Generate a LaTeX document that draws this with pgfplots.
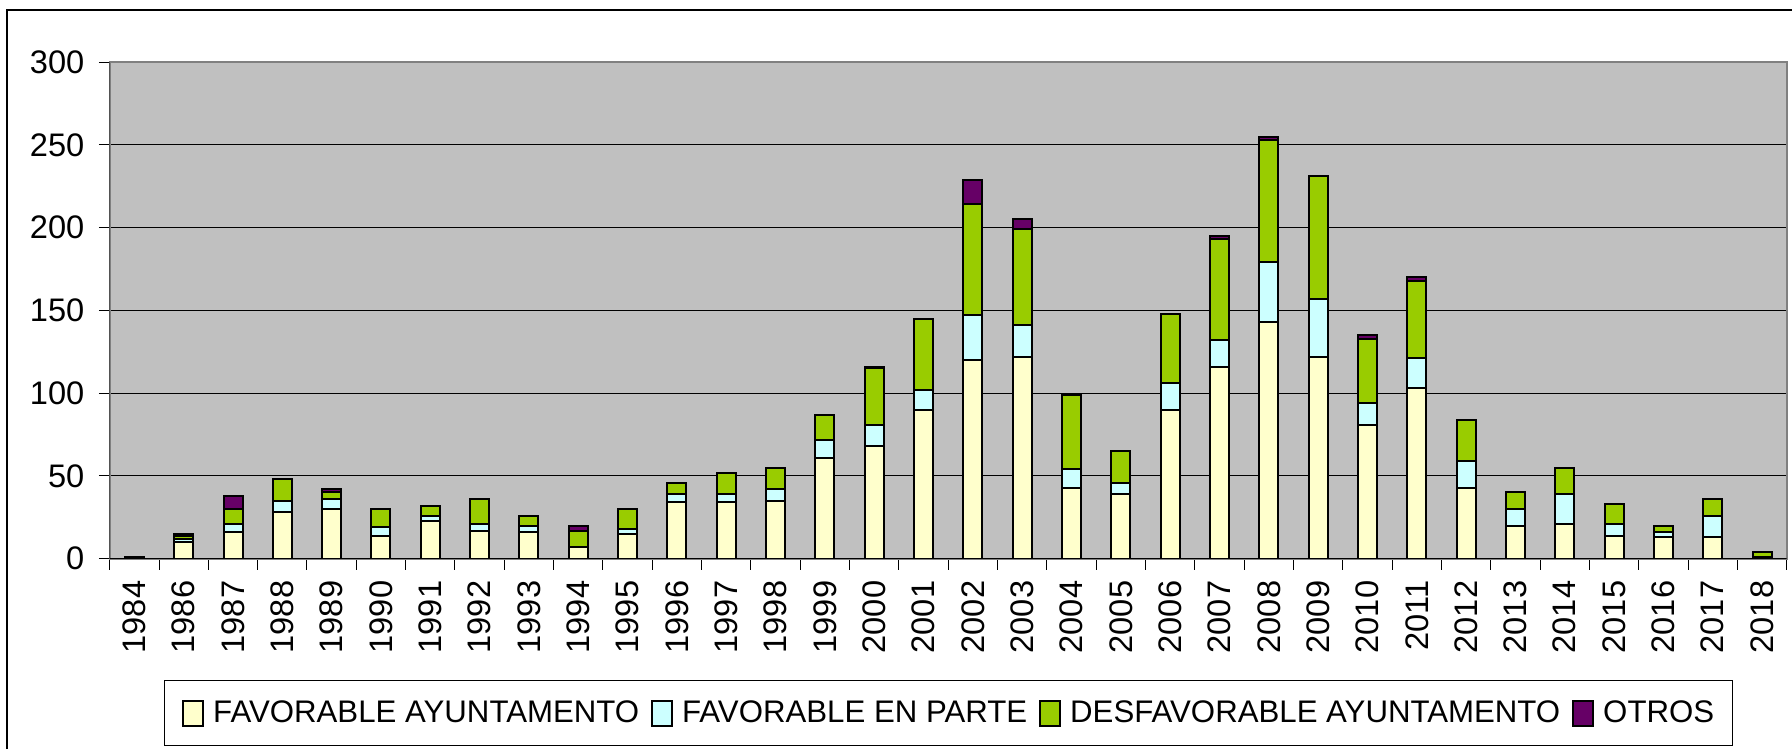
\documentclass[border=0pt]{standalone}
\usepackage{fontspec}
\setmainfont{Liberation Sans}
\usepackage{pgfplots}
\pgfplotsset{compat=1.18}
\usepackage{pgfplotstable}
\definecolor{cfav}{RGB}{255,255,204}
\definecolor{cpar}{RGB}{204,255,255}
\definecolor{cdes}{RGB}{153,204,0}
\definecolor{cotr}{RGB}{102,0,102}
\definecolor{cbg}{RGB}{192,192,192}
\definecolor{cbord}{RGB}{128,128,128}
\pgfplotsset{mylegend/.style={legend image code/.code={%
  \draw[##1,draw=black,line width=1pt] (0pt,-6.25pt) rectangle (10pt,6.25pt);
  \path[draw=none,fill=none] (0pt,0pt) -- (15pt,0pt);}}}

\pgfplotstableread{
x fav par des otr
0 1 0 0 0
1 10 2 2 1
2 16 5 9 8
3 28 7 13 0
4 30 6 4 2
5 14 5 11 0
6 23 3 6 0
7 17 4 15 0
8 16 4 6 0
9 7 0 10 3
10 15 3 12 0
11 34 5 7 0
12 34 5 13 0
13 35 7 13 0
14 61 11 15 0
15 68 13 34 1
16 90 12 43 0
17 120 27 67 15
18 122 19 58 6
19 43 11 45 0
20 39 7 19 0
21 90 16 42 0
22 116 16 61 2
23 143 36 74 2
24 122 35 74 0
25 81 13 39 2
26 103 18 47 2
27 43 16 25 0
28 20 10 10 0
29 21 18 16 0
30 14 7 12 0
31 13 3 4 0
32 13 13 10 0
33 1 0 3 0
}\datatable

\begin{document}
\begin{tikzpicture}
\path[use as bounding box] (0,0) rectangle (896pt,-374.5pt);
\draw[black, line width=0.65pt] (3.5pt,-374.5pt) -- (3.5pt,-5pt) -- (896pt,-5pt);
\begin{axis}[
  at={(54.85pt,-279.35pt)}, anchor=south west,
  width=838.5pt, height=248.35pt, scale only axis,
  ybar stacked, bar width=9.5pt,
  xmin=-0.5, xmax=33.5, ymin=0, ymax=300,
  xtick={0,...,33},
  xticklabels={1984,1986,1987,1988,1989,1990,1991,1992,1993,1994,1995,1996,1997,1998,1999,2000,2001,2002,2003,2004,2005,2006,2007,2008,2009,2010,2011,2012,2013,2014,2015,2016,2017,2018},
  minor xtick={-0.5,0.5,...,33.5},
  ytick={0,50,...,300},
  tick pos=left,
  ymajorgrids, grid style={black, line width=0.5pt},
  axis background/.style={fill=cbg},
  axis line style={cbord, line width=1pt},
  tick align=outside, major tick length=5.4pt, minor tick length=5.4pt,
  tick style={black, line width=0.5pt},
  major x tick style={draw=none},
  tick label style={font=\fontsize{16.3}{19}\selectfont},
  xticklabel style={rotate=90, anchor=east, inner sep=0pt},
  yticklabel style={anchor=east, inner sep=0pt},
  xticklabel shift=5.45pt, yticklabel shift=7.1pt,
  /pgf/number format/assume math mode=true,
  legend columns=4, legend cell align=left,
  legend style={at={(0.5,-0.3107)}, anchor=center, draw=black, line width=0.6pt,
    fill=white, inner xsep=9pt, inner ysep=9.5pt,
    font=\fontsize{15.6}{18}\selectfont, column sep=0pt,
    /tikz/every even column/.append style={column sep=6pt},
    nodes={inner sep=0pt}},
]
\addplot[fill=cfav, draw=black, line width=1pt, mylegend] table[x=x,y=fav]{\datatable};
\addplot[fill=cpar, draw=black, line width=1pt, mylegend] table[x=x,y=par]{\datatable};
\addplot[fill=cdes, draw=black, line width=1pt, mylegend] table[x=x,y=des]{\datatable};
\addplot[fill=cotr, draw=black, line width=1pt, mylegend] table[x=x,y=otr]{\datatable};
\legend{FAVORABLE AYUNTAMENTO, FAVORABLE EN PARTE, DESFAVORABLE AYUNTAMENTO, OTROS}
\draw[black, line width=0.7pt] (rel axis cs:0,1) -- (rel axis cs:0,0) -- (rel axis cs:1,0);
\end{axis}
\end{tikzpicture}
\end{document}
